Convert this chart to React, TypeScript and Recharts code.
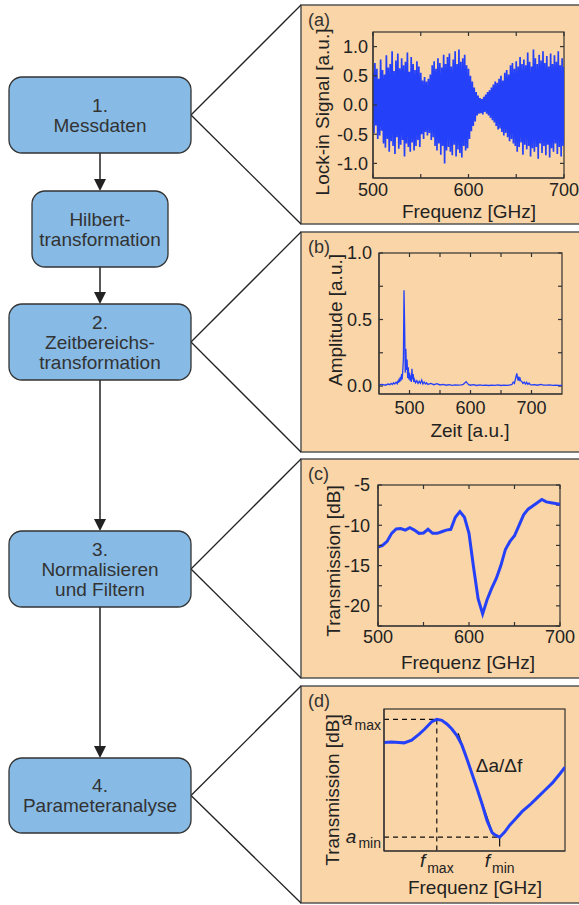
import React from 'react';
import { LineChart, Line, XAxis, YAxis, ReferenceLine } from 'recharts';

const FONT = '"Liberation Sans", Arial, Helvetica, sans-serif';
const BLUE = '#2440f8';
const PEACH = '#fad5a7';
const BOX_FILL = '#87bbe6';
const INK = '#222';

// (a) Messdaten: lock-in signal, one sample per GHz from 500 GHz
const lockinStart = 500;
const lockinSignal = [
  0.55, -0.48, 0.72, -0.35, 0.62, -0.58, 0.45, -0.52, 0.78, -0.44,
  0.60, -0.66, 0.52, -0.73, 0.85, -0.58, 0.64, -0.80, 0.70, -0.62,
  0.92, -0.70, 0.58, -0.84, 0.76, -0.55, 0.88, -0.75, 0.63, -0.68,
  0.80, -0.60, 0.68, -0.88, 0.74, -0.66, 0.90, -0.72, 0.57, -0.80,
  0.82, -0.64, 0.70, -0.78, 0.60, -0.70, 0.75, -0.60, 0.66, -0.72,
  0.55, -0.50, 0.42, -0.58, 0.48, -0.46, 0.40, -0.52, 0.45, -0.48,
  0.52, -0.60, 0.68, -0.55, 0.75, -0.70, 0.62, -0.78, 0.80, -0.66,
  0.72, -0.85, 0.64, -0.70, 0.86, -1.0, 0.70, -0.78, 0.82, -0.72,
  0.88, -0.80, 0.66, -0.86, 0.78, -0.68, 0.92, -0.88, 0.70, -0.76,
  0.95, -0.82, 0.74, -0.90, 0.80, -0.70, 0.86, -0.78, 0.68, -0.74,
  0.62, -0.58, 0.50, -0.45, 0.40, -0.36, 0.30, -0.28, 0.22, -0.18,
  0.16, -0.15, 0.12, -0.14, 0.10, -0.16, 0.14, -0.12, 0.18, -0.15,
  0.22, -0.18, 0.25, -0.22, 0.30, -0.26, 0.35, -0.30, 0.40, -0.36,
  0.38, -0.42, 0.45, -0.40, 0.50, -0.46, 0.42, -0.52, 0.55, -0.48,
  0.60, -0.55, 0.52, -0.62, 0.68, -0.58, 0.72, -0.66, 0.62, -0.70,
  0.75, -0.80, 0.66, -0.72, 0.82, -0.64, 0.70, -0.85, 0.78, -0.68,
  0.68, -0.76, 0.90, -0.70, 0.74, -0.88, 0.66, -0.74, 0.95, -0.80,
  0.80, -0.72, 0.70, -0.92, 0.86, -0.66, 0.76, -0.82, 0.92, -0.70,
  0.72, -0.86, 0.84, -0.68, 0.66, -0.90, 0.88, -0.74, 0.70, -0.80,
  0.85, -0.66, 0.74, -0.84, 0.92, -0.72, 0.68, -0.88, 0.80, -0.70,
  0.65,
];
const lockinXTicks = [500, 550, 600, 650, 700];
const lockinYTicks = [-1, -0.5, 0, 0.5, 1];

// (b) Zeitbereich
const zeit = [
  450, 455, 460, 465, 468, 470, 472, 474, 476, 478,
  480, 481, 482, 483, 484, 485, 486, 487, 488, 489,
  490, 491, 492, 493, 494, 495, 496, 497, 498, 499,
  500, 501, 502, 503, 504, 505, 506, 507, 508, 510,
  512, 514, 516, 518, 520, 522, 524, 526, 528, 530,
  535, 540, 545, 550, 555, 560, 565, 570, 575, 580,
  585, 588, 590, 592, 593, 595, 597, 600, 605, 610,
  615, 620, 625, 630, 635, 640, 645, 650, 655, 660,
  665, 668, 670, 672, 674, 675, 676, 677, 678, 679,
  680, 681, 682, 684, 686, 688, 690, 692, 694, 696,
  698, 700, 705, 710, 715, 720, 725, 730, 735, 740,
  745, 750,
];
const amplitude = [
  0.008, 0.012, 0.006, 0.015, 0.01, 0.02, 0.012, 0.025, 0.015, 0.03,
  0.018, 0.04, 0.025, 0.055, 0.03, 0.07, 0.04, 0.09, 0.05, 0.12,
  0.2, 0.72, 0.45, 0.1, 0.28, 0.12, 0.2, 0.06, 0.14, 0.05,
  0.1, 0.04, 0.08, 0.03, 0.13, 0.05, 0.09, 0.03, 0.05, 0.025,
  0.04, 0.02, 0.035, 0.02, 0.045, 0.015, 0.03, 0.015, 0.025, 0.012,
  0.02, 0.01, 0.018, 0.008, 0.012, 0.006, 0.01, 0.005, 0.008, 0.006,
  0.008, 0.012, 0.02, 0.03, 0.032, 0.02, 0.01, 0.006, 0.01, 0.004,
  0.008, 0.005, 0.007, 0.004, 0.006, 0.005, 0.008, 0.004, 0.006, 0.005,
  0.008, 0.012, 0.03, 0.02, 0.06, 0.08, 0.095, 0.06, 0.04, 0.07,
  0.05, 0.065, 0.04, 0.035, 0.02, 0.03, 0.015, 0.028, 0.012, 0.022,
  0.01, 0.008, 0.01, 0.006, 0.012, 0.007, 0.006, 0.008, 0.005, 0.006,
  0.004, 0.005,
];
const zeitTicks = [500, 550, 600, 650, 700];
const ampTicks = [0, 0.25, 0.5, 0.75, 1];

// (c) normalised transmission, every 5 GHz
const transFreq = [
  500, 505, 510, 515, 520, 525, 530, 535, 540, 545,
  550, 555, 560, 565, 570, 575, 580, 585, 590, 595,
  600, 605, 610, 615, 620, 625, 630, 635, 640, 645,
  650, 655, 660, 665, 670, 675, 680, 685, 690, 695,
  700,
];
const transmission = [
  -12.7, -12.5, -12.0, -11.0, -10.45, -10.4, -10.6, -10.3, -10.6, -11.0,
  -10.95, -10.5, -11.0, -11.0, -10.8, -10.6, -10.5, -9.0, -8.3, -9.0,
  -11.0, -15.2, -19.1, -21.0, -19.2, -17.8, -16.6, -15.0, -13.0, -12.0,
  -11.3, -10.0, -8.7, -8.0, -7.6, -7.2, -6.8, -7.1, -7.2, -7.3,
  -7.4,
];
const transXTicks = [500, 550, 600, 650, 700];
const transYTicks = [-22.5, -20, -17.5, -15, -12.5, -10, -7.5, -5];

// (d) zoom on the resonance
const zoomFreq = [
  569, 572, 575, 577, 580, 583, 585, 588, 590, 592,
  594, 596, 598, 600, 602, 604, 606, 608, 610, 612,
  613.5, 615, 617, 619, 621, 624, 627, 630, 633, 636,
  639, 641,
];
const zoomTrans = [
  -10.7, -10.65, -10.7, -10.75, -10.45, -9.8, -9.3, -8.45, -8.2, -8.3,
  -8.7, -9.25, -9.95, -11.0, -12.5, -14.1, -15.7, -17.4, -19.2, -20.5,
  -20.8, -21.0, -20.45, -19.7, -19.1, -18.2, -17.5, -16.7, -15.9, -15.1,
  -14.1, -13.4,
];
const fMarks = [590, 615]; // f_max, f_min
const aMarks = [-8.2, -21.0]; // a_max, a_min
const slopeStart = [598.5, -9.7];
const slopeEnd = [612.5, -20.8];

const lockinData = lockinSignal.map((v, i) => ({ f: lockinStart + i, v }));
const zeitData = zeit.map((t, i) => ({ t, a: amplitude[i] }));
const transData = transFreq.map((f, i) => ({ f, s: transmission[i] }));
const zoomData = zoomFreq.map((f, i) => ({ f, s: zoomTrans[i] }));

const lockinX = [500, 700];
const lockinY = [-1.25, 1.25];
const zeitX = [450, 750];
const ampY = [-0.06, 1];
const transX = [500, 700];
const transY = [-22.5, -5];
const zoomX = [569, 641];
const zoomY = [-22.5, -7.07];

const FRAME = '#333';
const axisStroke = { stroke: FRAME, strokeWidth: 1.2 };
const tickText = { fill: INK, fontSize: 18 };

const chartMargin = { top: 12, right: 20, bottom: 0, left: 0 };
// chart boxes: plot rect + 60px y-axis on the left, 45px x-axis below
function place(plotLeft: number, plotTop: number, plotW: number, plotH: number) {
  return {
    style: { position: 'absolute' as const, left: plotLeft - 60, top: plotTop - chartMargin.top },
    width: plotW + 60 + chartMargin.right,
    height: plotH + 45 + chartMargin.top,
    left: plotLeft,
    top: plotTop,
    plotW,
    plotH,
  };
}
const pa = place(373, 32, 191, 146);
const pb = place(379, 253, 183, 141);
const pc = place(378, 485, 182, 141);
const pd = place(384, 709, 181, 142);

// closed plot frames with inward ticks on the top and right edges
const frames = [
  { p: pa, xd: lockinX, xt: lockinXTicks, yd: lockinY, yt: lockinYTicks },
  { p: pb, xd: zeitX, xt: zeitTicks, yd: ampY, yt: ampTicks },
  { p: pc, xd: transX, xt: transXTicks, yd: transY, yt: transYTicks },
  { p: pd, xd: zoomX, xt: [] as number[], yd: zoomY, yt: [] as number[] },
];

const AmpTick = (props: any) => {
  const { x, y, payload } = props;
  const sub = payload.value === aMarks[0] ? 'max' : 'min';
  return (
    <text x={x} y={y + 6} textAnchor="end" fill={INK} fontSize={19}>
      <tspan fontStyle="italic">a</tspan>
      <tspan fontSize={14} dx={2} dy={5}>{sub}</tspan>
    </text>
  );
};

const FreqTick = (props: any) => {
  const { x, y, payload } = props;
  const sub = payload.value === fMarks[0] ? 'max' : 'min';
  return (
    <text x={x} y={y + 14} textAnchor="middle" fill={INK} fontSize={19}>
      <tspan fontStyle="italic">f</tspan>
      <tspan fontSize={14} dx={2} dy={6}>{sub}</tspan>
    </text>
  );
};

const boxes = [
  { x: 9, y: 77, w: 182, h: 76, lines: ['1.', 'Messdaten'] },
  { x: 32, y: 191, w: 136, h: 76, lines: ['Hilbert-', 'transformation'] },
  { x: 9, y: 304, w: 182, h: 76, lines: ['2.', 'Zeitbereichs-', 'transformation'] },
  { x: 9, y: 531, w: 182, h: 76, lines: ['3.', 'Normalisieren', 'und Filtern'] },
  { x: 9, y: 758, w: 182, h: 75, lines: ['4.', 'Parameteranalyse'] },
];
const arrows = [
  [153, 191],
  [267, 304],
  [380, 531],
  [607, 758],
];
const panels = [
  { y: 5, h: 219, tag: '(a)', from: 0 },
  { y: 232, h: 220, tag: '(b)', from: 2 },
  { y: 459, h: 219, tag: '(c)', from: 3 },
  { y: 686, h: 217, tag: '(d)', from: 4 },
];
const axisTitles = [
  { x: 322, y: 112, text: 'Lock-in Signal [a.u.]', rot: true },
  { x: 469, y: 211, text: 'Frequenz [GHz]', rot: false },
  { x: 335, y: 320, text: 'Amplitude [a.u.]', rot: true },
  { x: 470, y: 430, text: 'Zeit [a.u.]', rot: false },
  { x: 333, y: 561, text: 'Transmission [dB]', rot: true },
  { x: 468, y: 662, text: 'Frequenz [GHz]', rot: false },
  { x: 332, y: 790, text: 'Transmission [dB]', rot: true },
  { x: 475, y: 887, text: 'Frequenz [GHz]', rot: false },
];

function Diagram() {
  return (
    <svg width={579} height={905} style={{ position: 'absolute', left: 0, top: 0 }}>
      {panels.map((p) => {
        const b = boxes[p.from];
        const cy = b.y + b.h / 2;
        return (
          <g key={p.tag}>
            <rect x={301} y={p.y} width={290} height={p.h} fill={PEACH} stroke="#555" strokeWidth={1.5} />
            <line x1={b.x + b.w} y1={cy} x2={301} y2={p.y} stroke="#222" strokeWidth={1.3} />
            <line x1={b.x + b.w} y1={cy} x2={301} y2={p.y + p.h} stroke="#222" strokeWidth={1.3} />
            <text x={308} y={p.y + 21} fill="#333" fontSize={18}>{p.tag}</text>
          </g>
        );
      })}
      {frames.map(({ p, xd, xt, yd, yt }, k) => {
        const right = p.left + p.plotW;
        return (
          <g key={`frame${k}`} stroke={FRAME} strokeWidth={1.2}>
            <rect x={p.left} y={p.top} width={p.plotW} height={p.plotH} fill="none" />
            {xt.map((t) => {
              const x = p.left + ((t - xd[0]) / (xd[1] - xd[0])) * p.plotW;
              return <line key={`t${t}`} x1={x} y1={p.top} x2={x} y2={p.top + 4} />;
            })}
            {yt.map((t) => {
              const y = p.top + ((yd[1] - t) / (yd[1] - yd[0])) * p.plotH;
              return <line key={`r${t}`} x1={right - 4} y1={y} x2={right} y2={y} />;
            })}
          </g>
        );
      })}
      {arrows.map(([y1, y2]) => (
        <g key={y1}>
          <line x1={100} y1={y1} x2={100} y2={y2 - 10} stroke="#222" strokeWidth={1.5} />
          <polygon points={`94,${y2 - 12} 106,${y2 - 12} 100,${y2}`} fill="#222" />
        </g>
      ))}
      {boxes.map((b) => {
        const cy = b.y + b.h / 2;
        const top = cy - ((b.lines.length - 1) * 20) / 2;
        return (
          <g key={b.lines.join()}>
            <rect x={b.x} y={b.y} width={b.w} height={b.h} rx={13} fill={BOX_FILL} stroke="#333" strokeWidth={1.3} />
            {b.lines.map((l, i) => (
              <text key={l} x={b.x + b.w / 2} y={top + i * 20} textAnchor="middle" dominantBaseline="central"
                fill="#333" fontSize={19}>{l}</text>
            ))}
          </g>
        );
      })}
      {axisTitles.map((t) => (
        <text key={t.text + t.y} x={t.x} y={t.y} textAnchor="middle" dominantBaseline="central" fill={INK}
          fontSize={19} transform={t.rot ? `rotate(-90 ${t.x} ${t.y})` : undefined}>{t.text}</text>
      ))}
      <text x={499} y={765} textAnchor="middle" dominantBaseline="central" fill={INK} fontSize={19}>Δa/Δf</text>
    </svg>
  );
}

export default function App() {
  return (
    <div style={{ position: 'absolute', left: 0, top: 0, width: 579, height: 905, background: '#fff', fontFamily: FONT, overflow: 'hidden' }}>
      <Diagram />

      <div style={pa.style}>
        <LineChart width={pa.width} height={pa.height} data={lockinData} margin={chartMargin}>
          <XAxis dataKey="f" type="number" domain={lockinX} ticks={lockinXTicks} interval={0} allowDataOverflow
            height={45} tickSize={-4} tickMargin={9} axisLine={axisStroke} tickLine={axisStroke} tick={tickText}
            tickFormatter={(v: number) => (v % 100 === 0 ? String(v) : '')} />
          <YAxis type="number" domain={lockinY} ticks={lockinYTicks} interval={0} allowDataOverflow width={60}
            tickSize={-4} tickMargin={9} axisLine={axisStroke} tickLine={axisStroke} tick={tickText}
            tickFormatter={(v: number) => v.toFixed(1)} />
          <Line dataKey="v" stroke={BLUE} strokeWidth={1.7} dot={false} isAnimationActive={false} />
        </LineChart>
      </div>

      <div style={pb.style}>
        <LineChart width={pb.width} height={pb.height} data={zeitData} margin={chartMargin}>
          <XAxis dataKey="t" type="number" domain={zeitX} ticks={zeitTicks} interval={0} allowDataOverflow
            height={45} tickSize={-4} tickMargin={11} axisLine={axisStroke} tickLine={axisStroke} tick={tickText}
            tickFormatter={(v: number) => (v % 100 === 0 ? String(v) : '')} />
          <YAxis type="number" domain={ampY} ticks={ampTicks} interval={0} allowDataOverflow width={60}
            tickSize={-4} tickMargin={11} axisLine={axisStroke} tickLine={axisStroke} tick={tickText}
            tickFormatter={(v: number) => (v % 0.5 === 0 ? v.toFixed(1) : '')} />
          <Line dataKey="a" stroke={BLUE} strokeWidth={1.3} dot={false} isAnimationActive={false} />
        </LineChart>
      </div>

      <div style={pc.style}>
        <LineChart width={pc.width} height={pc.height} data={transData} margin={chartMargin}>
          <XAxis dataKey="f" type="number" domain={transX} ticks={transXTicks} interval={0} allowDataOverflow
            height={45} tickSize={-4} tickMargin={8} axisLine={axisStroke} tickLine={axisStroke} tick={tickText}
            tickFormatter={(v: number) => (v % 100 === 0 ? String(v) : '')} />
          <YAxis type="number" domain={transY} ticks={transYTicks} interval={0} allowDataOverflow width={60}
            tickSize={-4} tickMargin={12} axisLine={axisStroke} tickLine={axisStroke} tick={tickText}
            tickFormatter={(v: number) => (v % 5 === 0 ? String(v) : '')} />
          <Line dataKey="s" stroke={BLUE} strokeWidth={3} dot={false} isAnimationActive={false} />
        </LineChart>
      </div>

      <div style={pd.style}>
        <LineChart width={pd.width} height={pd.height} data={zoomData} margin={chartMargin}>
          <XAxis dataKey="f" type="number" domain={zoomX} ticks={fMarks} interval={0} allowDataOverflow
            height={45} tickSize={0} tickLine={false} axisLine={axisStroke} tick={<FreqTick />} />
          <YAxis type="number" domain={zoomY} ticks={aMarks} interval={0} allowDataOverflow width={60}
            tickSize={0} tickMargin={3} tickLine={false} axisLine={axisStroke} tick={<AmpTick />} />
          <ReferenceLine segment={[{ x: zoomX[0], y: aMarks[0] }, { x: fMarks[0], y: aMarks[0] }]}
            stroke="#111" strokeWidth={1.2} strokeDasharray="5 4" />
          <ReferenceLine segment={[{ x: fMarks[0], y: aMarks[0] }, { x: fMarks[0], y: zoomY[0] }]}
            stroke="#111" strokeWidth={1.2} strokeDasharray="5 4" />
          <ReferenceLine segment={[{ x: zoomX[0], y: aMarks[1] }, { x: fMarks[1], y: aMarks[1] }]}
            stroke="#111" strokeWidth={1.2} strokeDasharray="5 4" />
          <ReferenceLine segment={[{ x: fMarks[1], y: aMarks[1] }, { x: fMarks[1], y: -22 }]}
            stroke="#111" strokeWidth={1.2} />
          <ReferenceLine segment={[{ x: slopeStart[0], y: slopeStart[1] }, { x: slopeEnd[0], y: slopeEnd[1] }]}
            stroke="#111" strokeWidth={1.2} />
          <Line dataKey="s" stroke={BLUE} strokeWidth={3} dot={false} isAnimationActive={false} />
        </LineChart>
      </div>
    </div>
  );
}
